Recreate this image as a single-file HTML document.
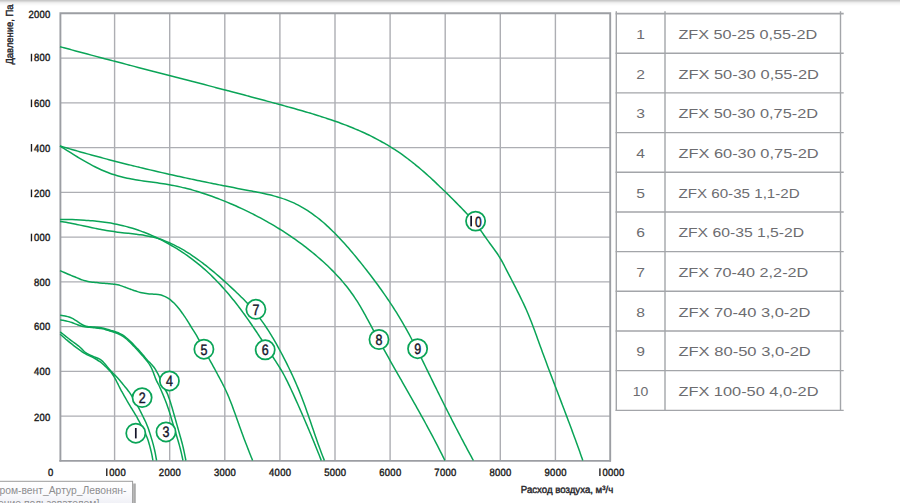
<!DOCTYPE html>
<html><head><meta charset="utf-8"><title>chart</title>
<style>
html,body{margin:0;padding:0;background:#fff;}
body{width:900px;height:503px;overflow:hidden;position:relative;font-family:"Liberation Sans",sans-serif;}
svg{position:absolute;left:0;top:0;}
.tick{font-family:"Liberation Sans",sans-serif;font-weight:normal;font-size:10.5px;fill:#1c1c20;stroke:#1c1c20;stroke-width:0.42px;text-rendering:geometricPrecision;}
.ttl{font-family:"Liberation Sans",sans-serif;font-weight:normal;font-size:10.2px;fill:#26262b;stroke:#26262b;stroke-width:0.42px;text-rendering:geometricPrecision;}
.num{font-family:"Liberation Sans",sans-serif;font-size:15px;fill:#15152a;stroke:#15152a;stroke-width:0.45px;text-rendering:geometricPrecision;}
.leg{font-family:"Liberation Sans",sans-serif;font-size:13.3px;fill:#6c6c70;}
.tip{font-family:"Liberation Sans",sans-serif;font-size:11.1px;fill:#8d8d8f;}
</style></head><body>
<svg width="900" height="503" viewBox="0 0 900 503">
<defs>
<linearGradient id="topg" x1="0" y1="0" x2="0" y2="1">
<stop offset="0" stop-color="#c4c4c4"/><stop offset="0.45" stop-color="#d6d6d6"/><stop offset="0.7" stop-color="#ececec"/><stop offset="1" stop-color="#ffffff"/>
</linearGradient>
<linearGradient id="tipg" x1="0" y1="0" x2="0" y2="1"><stop offset="0" stop-color="#ffffff"/><stop offset="0.35" stop-color="#fbfbfd"/><stop offset="1" stop-color="#e9eaf2"/></linearGradient>
<clipPath id="plotclip"><rect x="59" y="12" width="552" height="449.6"/></clipPath>
</defs>
<rect x="0" y="0" width="900" height="503" fill="#ffffff"/>
<rect x="0" y="0" width="900" height="1" fill="#c9c9c9"/><rect x="0" y="1" width="900" height="1" fill="#d9d9d9"/><rect x="0" y="2" width="900" height="1" fill="#ebebeb"/><rect x="0" y="3" width="900" height="1" fill="#f4f4f4"/><rect x="0" y="4" width="900" height="1" fill="#f9f9f9"/><rect x="0" y="5" width="900" height="1" fill="#fdfdfd"/>

<g stroke="#adaeb3" stroke-width="1.4" fill="none"><line x1="114.60" y1="13.4" x2="114.60" y2="460.9"/><line x1="169.70" y1="13.4" x2="169.70" y2="460.9"/><line x1="224.80" y1="13.4" x2="224.80" y2="460.9"/><line x1="279.90" y1="13.4" x2="279.90" y2="460.9"/><line x1="335.00" y1="13.4" x2="335.00" y2="460.9"/><line x1="390.10" y1="13.4" x2="390.10" y2="460.9"/><line x1="445.20" y1="13.4" x2="445.20" y2="460.9"/><line x1="500.30" y1="13.4" x2="500.30" y2="460.9"/><line x1="555.40" y1="13.4" x2="555.40" y2="460.9"/><line x1="60" y1="416.10" x2="610.3" y2="416.10"/><line x1="60" y1="371.35" x2="610.3" y2="371.35"/><line x1="60" y1="326.60" x2="610.3" y2="326.60"/><line x1="60" y1="281.85" x2="610.3" y2="281.85"/><line x1="60" y1="237.10" x2="610.3" y2="237.10"/><line x1="60" y1="192.35" x2="610.3" y2="192.35"/><line x1="60" y1="147.60" x2="610.3" y2="147.60"/><line x1="60" y1="102.85" x2="610.3" y2="102.85"/><line x1="60" y1="58.10" x2="610.3" y2="58.10"/></g>
<path d="M60.4,461.6 V13.25 H610.2 V461.6" stroke="#9c9ea3" stroke-width="1.9" fill="none" stroke-linejoin="miter"/>
<line x1="59.4" y1="460.9" x2="611" y2="460.9" stroke="#9c9ea3" stroke-width="1.7"/>
<g stroke="#0aa457" stroke-width="1.5" fill="none" stroke-linecap="butt" stroke-linejoin="round" clip-path="url(#plotclip)">
<path d="M60.00,46.70 C60.65,46.87 62.60,47.40 63.91,47.75 C65.21,48.10 66.51,48.46 67.82,48.81 C69.12,49.16 70.42,49.52 71.72,49.87 C73.03,50.22 74.33,50.57 75.63,50.92 C76.93,51.27 78.24,51.62 79.54,51.97 C80.84,52.32 82.14,52.67 83.44,53.02 C84.75,53.37 86.05,53.72 87.35,54.07 C88.65,54.41 89.95,54.76 91.26,55.11 C92.56,55.45 93.86,55.80 95.16,56.14 C96.46,56.49 97.77,56.84 99.07,57.18 C100.37,57.52 101.67,57.87 102.97,58.21 C104.27,58.56 105.58,58.90 106.88,59.24 C108.18,59.59 109.48,59.93 110.78,60.27 C112.08,60.61 113.39,60.95 114.69,61.30 C115.99,61.64 117.29,61.98 118.59,62.32 C119.89,62.66 121.19,63.00 122.49,63.34 C123.80,63.68 125.10,64.02 126.40,64.36 C127.70,64.70 129.00,65.04 130.30,65.38 C131.60,65.72 132.90,66.06 134.21,66.39 C135.51,66.73 136.81,67.07 138.11,67.41 C139.41,67.75 140.71,68.08 142.01,68.42 C143.31,68.76 144.61,69.10 145.92,69.44 C147.22,69.77 148.52,70.11 149.82,70.45 C151.12,70.78 152.42,71.12 153.72,71.46 C155.02,71.80 156.32,72.13 157.62,72.47 C158.92,72.81 160.23,73.14 161.53,73.48 C162.83,73.82 164.13,74.15 165.43,74.49 C166.73,74.83 168.03,75.16 169.33,75.50 C170.63,75.83 171.93,76.17 173.24,76.51 C174.54,76.84 175.84,77.18 177.14,77.52 C178.44,77.85 179.74,78.19 181.04,78.53 C182.34,78.86 183.64,79.20 184.94,79.54 C186.25,79.87 187.55,80.21 188.85,80.55 C190.15,80.88 191.45,81.22 192.75,81.56 C194.05,81.90 195.35,82.23 196.65,82.57 C197.96,82.91 199.26,83.25 200.56,83.58 C201.86,83.92 203.16,84.26 204.46,84.60 C205.76,84.94 207.06,85.28 208.37,85.61 C209.67,85.95 210.97,86.29 212.27,86.63 C213.57,86.97 214.87,87.31 216.17,87.65 C217.48,87.99 218.78,88.33 220.08,88.67 C221.38,89.01 222.68,89.35 223.98,89.69 C225.28,90.03 226.59,90.37 227.89,90.72 C229.19,91.06 230.49,91.40 231.79,91.74 C233.10,92.08 234.40,92.43 235.70,92.77 C237.00,93.11 238.30,93.46 239.61,93.80 C240.91,94.15 242.21,94.49 243.51,94.83 C244.81,95.18 246.12,95.53 247.42,95.87 C248.72,96.22 250.02,96.56 251.33,96.91 C252.63,97.26 253.93,97.60 255.23,97.95 C256.54,98.30 257.84,98.65 259.14,99.00 C260.44,99.35 261.75,99.70 263.05,100.05 C264.35,100.40 265.66,100.75 266.96,101.10 C268.26,101.45 269.56,101.80 270.87,102.15 C272.17,102.51 273.47,102.86 274.78,103.21 C276.08,103.57 277.38,103.92 278.69,104.28 C279.99,104.63 281.30,104.99 282.60,105.34 C283.90,105.70 285.21,106.06 286.51,106.42 C287.81,106.77 289.12,107.13 290.42,107.50 C291.72,107.86 293.02,108.22 294.33,108.59 C295.63,108.95 296.93,109.32 298.23,109.69 C299.53,110.06 300.83,110.43 302.13,110.80 C303.42,111.18 304.72,111.56 306.02,111.94 C307.31,112.32 308.61,112.70 309.90,113.09 C311.20,113.47 312.49,113.86 313.78,114.26 C315.07,114.65 316.36,115.05 317.65,115.45 C318.93,115.85 320.22,116.26 321.50,116.67 C322.79,117.08 324.07,117.49 325.35,117.91 C326.63,118.33 327.90,118.76 329.18,119.19 C330.45,119.61 331.73,120.05 332.99,120.49 C334.26,120.93 335.53,121.37 336.80,121.83 C338.06,122.28 339.32,122.73 340.58,123.20 C341.84,123.66 343.10,124.13 344.35,124.61 C345.60,125.08 346.85,125.57 348.10,126.06 C349.34,126.55 350.59,127.04 351.83,127.55 C353.07,128.05 354.30,128.56 355.53,129.08 C356.77,129.60 357.99,130.13 359.22,130.66 C360.44,131.20 361.66,131.74 362.88,132.29 C364.10,132.84 365.31,133.40 366.52,133.97 C367.72,134.54 368.93,135.11 370.13,135.70 C371.33,136.28 372.52,136.88 373.71,137.48 C374.90,138.09 376.09,138.70 377.27,139.32 C378.45,139.95 379.62,140.58 380.79,141.22 C381.96,141.86 383.13,142.52 384.29,143.18 C385.45,143.84 386.61,144.52 387.76,145.20 C388.90,145.89 390.05,146.58 391.19,147.29 C392.32,148.00 393.46,148.72 394.58,149.45 C395.71,150.17 396.83,150.92 397.95,151.67 C399.06,152.42 400.17,153.19 401.27,153.96 C402.38,154.74 403.47,155.52 404.56,156.32 C405.66,157.12 406.74,157.93 407.82,158.74 C408.90,159.56 409.98,160.39 411.05,161.22 C412.11,162.06 413.18,162.90 414.24,163.75 C415.29,164.61 416.35,165.47 417.39,166.34 C418.44,167.20 419.48,168.08 420.52,168.96 C421.56,169.84 422.59,170.73 423.62,171.63 C424.65,172.52 425.67,173.42 426.69,174.33 C427.70,175.24 428.72,176.15 429.72,177.07 C430.73,177.98 431.74,178.90 432.73,179.83 C433.73,180.75 434.73,181.68 435.72,182.61 C436.71,183.54 437.69,184.48 438.67,185.42 C439.66,186.35 440.63,187.29 441.61,188.24 C442.58,189.18 443.55,190.12 444.51,191.07 C445.48,192.01 446.44,192.95 447.40,193.90 C448.35,194.85 449.31,195.79 450.26,196.74 C451.21,197.68 452.15,198.63 453.09,199.57 C454.04,200.52 454.98,201.46 455.91,202.40 C456.85,203.34 457.78,204.28 458.70,205.22 C459.63,206.16 460.55,207.10 461.47,208.05 C462.39,208.99 463.30,209.94 464.21,210.89 C465.11,211.84 466.01,212.80 466.91,213.76 C467.80,214.73 468.69,215.70 469.57,216.68 C470.45,217.66 471.32,218.65 472.18,219.66 C473.04,220.66 473.90,221.67 474.74,222.70 C475.59,223.73 476.42,224.77 477.25,225.82 C478.07,226.88 478.89,227.95 479.69,229.04 C480.50,230.13 481.29,231.24 482.08,232.36 C482.87,233.48 483.64,234.62 484.43,235.75 C485.21,236.87 485.99,238.01 486.78,239.13 C487.57,240.25 488.38,241.36 489.18,242.46 C489.98,243.56 490.79,244.65 491.59,245.74 C492.40,246.83 493.20,247.92 493.99,249.01 C494.78,250.10 495.56,251.19 496.33,252.29 C497.09,253.39 497.84,254.49 498.56,255.61 C499.28,256.73 499.98,257.86 500.65,259.00 C501.33,260.15 501.97,261.31 502.60,262.47 C503.24,263.64 503.85,264.82 504.47,266.00 C505.08,267.18 505.68,268.37 506.29,269.56 C506.90,270.75 507.51,271.94 508.12,273.13 C508.73,274.32 509.35,275.51 509.97,276.70 C510.58,277.89 511.20,279.08 511.82,280.28 C512.44,281.47 513.06,282.67 513.67,283.86 C514.29,285.06 514.91,286.26 515.52,287.46 C516.13,288.66 516.75,289.86 517.36,291.06 C517.96,292.27 518.57,293.47 519.17,294.68 C519.77,295.89 520.37,297.10 520.96,298.31 C521.55,299.53 522.14,300.74 522.72,301.96 C523.29,303.18 523.87,304.40 524.43,305.62 C525.00,306.85 525.55,308.08 526.10,309.31 C526.65,310.54 527.19,311.77 527.71,313.01 C528.24,314.25 528.76,315.49 529.27,316.74 C529.78,317.98 530.28,319.23 530.77,320.48 C531.27,321.73 531.75,322.98 532.24,324.24 C532.72,325.49 533.19,326.75 533.66,328.01 C534.13,329.27 534.60,330.53 535.06,331.79 C535.52,333.05 535.98,334.32 536.44,335.58 C536.90,336.85 537.35,338.11 537.81,339.38 C538.27,340.64 538.72,341.91 539.18,343.17 C539.63,344.44 540.09,345.70 540.55,346.96 C541.01,348.23 541.47,349.49 541.93,350.76 C542.39,352.02 542.86,353.28 543.32,354.54 C543.79,355.81 544.25,357.07 544.72,358.33 C545.19,359.59 545.66,360.85 546.13,362.11 C546.60,363.37 547.07,364.63 547.54,365.89 C548.02,367.15 548.49,368.41 548.96,369.67 C549.44,370.93 549.91,372.19 550.39,373.45 C550.86,374.71 551.34,375.97 551.82,377.23 C552.30,378.49 552.77,379.75 553.25,381.00 C553.73,382.26 554.21,383.52 554.69,384.78 C555.17,386.04 555.65,387.29 556.13,388.55 C556.61,389.81 557.09,391.07 557.57,392.33 C558.05,393.59 558.53,394.84 559.01,396.10 C559.49,397.36 559.97,398.62 560.45,399.88 C560.93,401.13 561.41,402.39 561.89,403.65 C562.36,404.91 562.84,406.17 563.32,407.43 C563.80,408.69 564.28,409.94 564.76,411.20 C565.23,412.46 565.71,413.72 566.19,414.98 C566.66,416.24 567.14,417.50 567.61,418.76 C568.09,420.02 568.56,421.28 569.04,422.54 C569.51,423.80 569.98,425.06 570.45,426.32 C570.92,427.59 571.39,428.85 571.86,430.11 C572.33,431.37 572.80,432.63 573.26,433.90 C573.73,435.16 574.19,436.42 574.66,437.69 C575.12,438.95 575.58,440.22 576.04,441.48 C576.50,442.75 576.96,444.01 577.41,445.28 C577.87,446.54 578.33,447.81 578.78,449.08 C579.23,450.34 579.68,451.61 580.13,452.88 C580.58,454.15 581.03,455.42 581.47,456.69 C581.92,457.96 582.58,459.86 582.80,460.50"/>
<path d="M60.00,146.00 C60.65,146.19 62.62,146.77 63.92,147.15 C65.23,147.54 66.54,147.92 67.85,148.30 C69.16,148.68 70.46,149.06 71.77,149.44 C73.08,149.81 74.38,150.19 75.69,150.56 C77.00,150.93 78.30,151.30 79.61,151.67 C80.91,152.04 82.22,152.41 83.52,152.77 C84.83,153.14 86.14,153.50 87.44,153.86 C88.75,154.22 90.05,154.58 91.36,154.94 C92.66,155.29 93.97,155.65 95.27,156.00 C96.58,156.36 97.88,156.71 99.18,157.06 C100.49,157.41 101.79,157.76 103.10,158.11 C104.40,158.45 105.71,158.80 107.01,159.14 C108.32,159.48 109.62,159.83 110.93,160.17 C112.23,160.51 113.54,160.84 114.84,161.18 C116.15,161.52 117.45,161.85 118.76,162.19 C120.06,162.52 121.37,162.85 122.67,163.18 C123.98,163.51 125.28,163.84 126.59,164.17 C127.90,164.49 129.20,164.82 130.51,165.14 C131.81,165.46 133.12,165.79 134.43,166.11 C135.73,166.43 137.04,166.75 138.35,167.06 C139.66,167.38 140.96,167.70 142.27,168.01 C143.58,168.33 144.89,168.64 146.20,168.95 C147.50,169.26 148.81,169.57 150.12,169.88 C151.43,170.19 152.74,170.50 154.05,170.80 C155.36,171.11 156.67,171.41 157.98,171.71 C159.30,172.02 160.61,172.32 161.92,172.62 C163.23,172.92 164.54,173.22 165.86,173.51 C167.17,173.81 168.48,174.11 169.80,174.40 C171.11,174.70 172.43,174.99 173.74,175.28 C175.06,175.57 176.37,175.86 177.69,176.15 C179.01,176.44 180.32,176.73 181.64,177.02 C182.96,177.30 184.28,177.59 185.60,177.87 C186.92,178.16 188.24,178.44 189.56,178.72 C190.88,179.00 192.20,179.28 193.52,179.56 C194.84,179.84 196.17,180.12 197.49,180.40 C198.81,180.68 200.14,180.95 201.46,181.23 C202.79,181.50 204.12,181.77 205.44,182.05 C206.77,182.32 208.10,182.59 209.43,182.86 C210.76,183.13 212.09,183.40 213.42,183.67 C214.75,183.94 216.08,184.20 217.41,184.47 C218.74,184.74 220.08,185.00 221.41,185.27 C222.75,185.53 224.08,185.79 225.42,186.05 C226.75,186.32 228.09,186.58 229.43,186.84 C230.77,187.10 232.11,187.36 233.45,187.61 C234.79,187.87 236.13,188.13 237.48,188.39 C238.82,188.64 240.16,188.90 241.51,189.15 C242.85,189.41 244.20,189.66 245.55,189.91 C246.90,190.17 248.25,190.42 249.59,190.67 C250.94,190.93 252.29,191.18 253.64,191.44 C254.99,191.70 256.33,191.96 257.68,192.23 C259.02,192.49 260.36,192.77 261.70,193.05 C263.04,193.33 264.37,193.62 265.70,193.92 C267.03,194.22 268.36,194.52 269.67,194.85 C270.99,195.17 272.31,195.50 273.61,195.85 C274.92,196.19 276.22,196.55 277.51,196.93 C278.80,197.31 280.08,197.70 281.35,198.12 C282.63,198.53 283.89,198.96 285.14,199.41 C286.40,199.86 287.64,200.33 288.87,200.83 C290.10,201.32 291.32,201.84 292.53,202.38 C293.73,202.92 294.93,203.48 296.11,204.06 C297.30,204.65 298.47,205.26 299.63,205.88 C300.79,206.51 301.94,207.16 303.08,207.82 C304.22,208.49 305.35,209.18 306.46,209.88 C307.58,210.59 308.69,211.32 309.79,212.06 C310.89,212.80 311.97,213.56 313.05,214.34 C314.13,215.11 315.20,215.91 316.25,216.72 C317.31,217.53 318.36,218.35 319.40,219.19 C320.44,220.03 321.47,220.89 322.50,221.76 C323.52,222.62 324.53,223.51 325.54,224.40 C326.55,225.30 327.54,226.21 328.54,227.13 C329.53,228.05 330.51,228.98 331.48,229.92 C332.46,230.86 333.42,231.82 334.38,232.78 C335.34,233.74 336.30,234.72 337.24,235.70 C338.19,236.68 339.13,237.67 340.06,238.67 C341.00,239.67 341.92,240.68 342.84,241.69 C343.76,242.70 344.68,243.72 345.59,244.75 C346.50,245.78 347.40,246.81 348.30,247.85 C349.20,248.88 350.09,249.93 350.98,250.97 C351.86,252.02 352.75,253.07 353.63,254.12 C354.50,255.17 355.38,256.23 356.25,257.29 C357.12,258.35 357.98,259.41 358.84,260.47 C359.70,261.53 360.56,262.59 361.42,263.65 C362.27,264.72 363.12,265.78 363.96,266.85 C364.81,267.91 365.65,268.98 366.49,270.05 C367.33,271.12 368.16,272.19 368.99,273.27 C369.81,274.34 370.64,275.41 371.46,276.49 C372.28,277.57 373.09,278.65 373.90,279.73 C374.71,280.81 375.52,281.89 376.32,282.98 C377.12,284.07 377.92,285.15 378.71,286.24 C379.50,287.33 380.29,288.43 381.07,289.52 C381.86,290.62 382.63,291.72 383.41,292.82 C384.18,293.92 384.95,295.02 385.71,296.13 C386.47,297.24 387.23,298.35 387.98,299.46 C388.73,300.57 389.48,301.69 390.22,302.81 C390.96,303.93 391.70,305.05 392.43,306.18 C393.16,307.30 393.89,308.43 394.61,309.56 C395.33,310.70 396.04,311.83 396.75,312.97 C397.46,314.11 398.17,315.26 398.87,316.41 C399.56,317.55 400.26,318.70 400.94,319.86 C401.63,321.02 402.31,322.18 402.99,323.34 C403.66,324.50 404.33,325.67 404.99,326.84 C405.66,328.02 406.31,329.19 406.97,330.37 C407.62,331.55 408.27,332.73 408.91,333.92 C409.55,335.11 410.19,336.30 410.82,337.49 C411.46,338.68 412.09,339.88 412.71,341.08 C413.34,342.28 413.96,343.48 414.58,344.68 C415.20,345.89 415.81,347.09 416.43,348.30 C417.04,349.51 417.65,350.72 418.26,351.93 C418.86,353.14 419.47,354.35 420.07,355.57 C420.67,356.78 421.27,358.00 421.87,359.22 C422.47,360.43 423.07,361.65 423.66,362.87 C424.26,364.09 424.86,365.31 425.45,366.53 C426.05,367.74 426.64,368.96 427.23,370.18 C427.83,371.40 428.42,372.62 429.01,373.84 C429.61,375.06 430.20,376.28 430.80,377.50 C431.39,378.71 431.98,379.93 432.58,381.15 C433.18,382.36 433.77,383.58 434.37,384.80 C434.97,386.01 435.56,387.23 436.16,388.44 C436.76,389.65 437.36,390.87 437.96,392.08 C438.56,393.29 439.16,394.51 439.76,395.72 C440.36,396.93 440.96,398.14 441.57,399.35 C442.17,400.56 442.77,401.77 443.38,402.98 C443.98,404.19 444.59,405.40 445.20,406.61 C445.80,407.81 446.41,409.02 447.02,410.23 C447.63,411.43 448.24,412.64 448.85,413.84 C449.46,415.05 450.07,416.25 450.69,417.46 C451.30,418.66 451.92,419.87 452.53,421.07 C453.15,422.27 453.77,423.47 454.38,424.67 C455.00,425.87 455.62,427.08 456.24,428.28 C456.86,429.47 457.49,430.67 458.11,431.87 C458.74,433.07 459.36,434.27 459.99,435.47 C460.62,436.66 461.24,437.86 461.87,439.05 C462.50,440.25 463.14,441.45 463.77,442.64 C464.40,443.83 465.04,445.03 465.68,446.22 C466.31,447.41 466.95,448.60 467.59,449.80 C468.23,450.99 468.87,452.18 469.52,453.37 C470.16,454.56 470.81,455.75 471.45,456.94 C472.10,458.12 473.08,459.91 473.40,460.50"/>
<path d="M60.00,146.00 C60.57,146.36 62.27,147.42 63.40,148.14 C64.54,148.86 65.68,149.58 66.82,150.30 C67.96,151.02 69.10,151.74 70.25,152.46 C71.40,153.18 72.54,153.90 73.70,154.62 C74.85,155.33 76.01,156.05 77.17,156.75 C78.33,157.46 79.49,158.16 80.66,158.86 C81.83,159.55 83.00,160.24 84.18,160.92 C85.35,161.60 86.53,162.27 87.72,162.93 C88.91,163.59 90.10,164.24 91.29,164.87 C92.49,165.51 93.69,166.13 94.90,166.74 C96.11,167.35 97.32,167.95 98.54,168.52 C99.76,169.10 100.98,169.67 102.21,170.21 C103.44,170.75 104.68,171.28 105.93,171.79 C107.17,172.29 108.42,172.78 109.68,173.24 C110.94,173.71 112.20,174.15 113.48,174.57 C114.75,174.99 116.03,175.38 117.32,175.76 C118.60,176.13 119.90,176.48 121.20,176.81 C122.50,177.14 123.81,177.45 125.12,177.75 C126.43,178.04 127.75,178.32 129.07,178.58 C130.40,178.84 131.72,179.09 133.05,179.33 C134.38,179.56 135.72,179.79 137.06,180.00 C138.39,180.22 139.73,180.42 141.07,180.62 C142.42,180.82 143.76,181.01 145.11,181.20 C146.45,181.39 147.80,181.57 149.14,181.76 C150.49,181.94 151.84,182.12 153.18,182.30 C154.53,182.49 155.88,182.67 157.22,182.86 C158.56,183.05 159.91,183.24 161.25,183.44 C162.59,183.64 163.93,183.84 165.27,184.05 C166.60,184.27 167.93,184.49 169.26,184.72 C170.59,184.96 171.92,185.20 173.24,185.46 C174.56,185.72 175.88,185.99 177.19,186.27 C178.51,186.55 179.82,186.84 181.12,187.14 C182.43,187.44 183.73,187.76 185.03,188.08 C186.33,188.40 187.63,188.74 188.92,189.08 C190.22,189.43 191.51,189.78 192.79,190.15 C194.08,190.51 195.37,190.89 196.65,191.27 C197.93,191.65 199.21,192.05 200.48,192.45 C201.76,192.85 203.03,193.27 204.30,193.69 C205.57,194.11 206.84,194.54 208.10,194.97 C209.37,195.41 210.63,195.86 211.89,196.31 C213.15,196.77 214.41,197.23 215.67,197.70 C216.92,198.17 218.18,198.65 219.43,199.13 C220.68,199.62 221.93,200.11 223.18,200.61 C224.43,201.11 225.67,201.62 226.92,202.13 C228.16,202.65 229.40,203.17 230.65,203.70 C231.89,204.22 233.12,204.76 234.36,205.30 C235.60,205.84 236.83,206.39 238.06,206.95 C239.29,207.50 240.52,208.06 241.75,208.63 C242.97,209.20 244.20,209.78 245.42,210.36 C246.64,210.95 247.86,211.54 249.07,212.13 C250.29,212.73 251.50,213.33 252.71,213.94 C253.92,214.56 255.12,215.17 256.33,215.80 C257.53,216.42 258.73,217.05 259.92,217.69 C261.12,218.33 262.31,218.98 263.50,219.63 C264.69,220.28 265.87,220.94 267.05,221.61 C268.23,222.27 269.41,222.95 270.58,223.63 C271.76,224.31 272.92,224.99 274.09,225.69 C275.25,226.38 276.41,227.08 277.57,227.79 C278.72,228.50 279.88,229.21 281.02,229.93 C282.17,230.65 283.31,231.38 284.45,232.12 C285.58,232.85 286.72,233.59 287.84,234.34 C288.97,235.09 290.09,235.85 291.21,236.61 C292.33,237.37 293.44,238.14 294.54,238.92 C295.65,239.69 296.75,240.48 297.85,241.27 C298.94,242.06 300.03,242.86 301.12,243.66 C302.20,244.46 303.28,245.27 304.35,246.09 C305.42,246.91 306.49,247.74 307.55,248.57 C308.61,249.40 309.66,250.24 310.71,251.08 C311.76,251.93 312.80,252.78 313.84,253.64 C314.87,254.50 315.90,255.36 316.92,256.24 C317.95,257.11 318.96,257.99 319.97,258.88 C320.98,259.76 321.98,260.66 322.97,261.56 C323.97,262.46 324.96,263.36 325.93,264.28 C326.91,265.20 327.89,266.12 328.85,267.05 C329.81,267.98 330.77,268.92 331.71,269.86 C332.66,270.81 333.60,271.76 334.52,272.73 C335.45,273.69 336.37,274.66 337.28,275.64 C338.19,276.62 339.08,277.61 339.97,278.61 C340.86,279.60 341.74,280.61 342.61,281.63 C343.47,282.64 344.33,283.67 345.18,284.70 C346.02,285.74 346.85,286.78 347.68,287.83 C348.50,288.89 349.31,289.95 350.11,291.02 C350.90,292.10 351.69,293.18 352.46,294.28 C353.23,295.37 353.99,296.48 354.74,297.59 C355.49,298.71 356.22,299.83 356.94,300.97 C357.66,302.11 358.37,303.25 359.07,304.40 C359.77,305.56 360.46,306.72 361.15,307.89 C361.83,309.05 362.50,310.23 363.17,311.41 C363.84,312.58 364.50,313.77 365.15,314.96 C365.81,316.15 366.46,317.34 367.10,318.53 C367.75,319.73 368.39,320.92 369.03,322.12 C369.68,323.32 370.32,324.52 370.96,325.72 C371.60,326.92 372.24,328.12 372.88,329.31 C373.52,330.51 374.16,331.71 374.81,332.90 C375.45,334.09 376.10,335.28 376.74,336.47 C377.39,337.66 378.04,338.85 378.69,340.04 C379.34,341.23 379.99,342.41 380.65,343.60 C381.30,344.78 381.96,345.96 382.61,347.14 C383.27,348.32 383.92,349.50 384.58,350.68 C385.24,351.86 385.90,353.04 386.56,354.22 C387.22,355.39 387.88,356.57 388.54,357.74 C389.20,358.92 389.87,360.09 390.53,361.26 C391.19,362.44 391.86,363.61 392.52,364.78 C393.18,365.95 393.85,367.12 394.51,368.29 C395.18,369.46 395.84,370.63 396.51,371.80 C397.18,372.97 397.84,374.14 398.51,375.31 C399.17,376.48 399.84,377.64 400.51,378.81 C401.17,379.98 401.84,381.15 402.50,382.31 C403.17,383.48 403.84,384.65 404.50,385.82 C405.17,386.98 405.83,388.15 406.50,389.32 C407.16,390.49 407.83,391.65 408.49,392.82 C409.16,393.99 409.82,395.16 410.48,396.33 C411.15,397.50 411.81,398.67 412.47,399.84 C413.13,401.00 413.79,402.17 414.45,403.35 C415.11,404.52 415.77,405.69 416.43,406.86 C417.09,408.03 417.74,409.20 418.40,410.38 C419.05,411.55 419.71,412.73 420.36,413.90 C421.02,415.08 421.67,416.25 422.32,417.43 C422.97,418.61 423.62,419.79 424.27,420.97 C424.91,422.15 425.56,423.33 426.20,424.51 C426.85,425.69 427.49,426.88 428.13,428.06 C428.77,429.25 429.41,430.43 430.05,431.62 C430.69,432.81 431.32,434.00 431.95,435.19 C432.59,436.38 433.22,437.57 433.85,438.77 C434.48,439.96 435.10,441.16 435.73,442.36 C436.35,443.56 436.97,444.76 437.59,445.96 C438.21,447.16 438.83,448.37 439.44,449.58 C440.06,450.78 440.67,451.99 441.28,453.20 C441.89,454.42 442.50,455.63 443.10,456.84 C443.70,458.06 444.60,459.89 444.90,460.50"/>
<path d="M60.00,221.40 C60.68,221.51 62.71,221.83 64.06,222.06 C65.41,222.28 66.76,222.52 68.10,222.77 C69.44,223.01 70.78,223.27 72.12,223.53 C73.45,223.79 74.78,224.05 76.12,224.32 C77.45,224.59 78.78,224.87 80.10,225.14 C81.43,225.42 82.76,225.70 84.08,225.98 C85.41,226.26 86.74,226.54 88.06,226.82 C89.39,227.10 90.71,227.38 92.04,227.66 C93.36,227.93 94.69,228.21 96.02,228.48 C97.34,228.74 98.67,229.01 100.00,229.27 C101.34,229.52 102.67,229.78 104.01,230.02 C105.34,230.26 106.68,230.50 108.02,230.72 C109.36,230.95 110.71,231.16 112.06,231.36 C113.41,231.57 114.76,231.76 116.12,231.94 C117.48,232.12 118.84,232.28 120.20,232.44 C121.57,232.61 122.94,232.76 124.30,232.91 C125.67,233.06 127.04,233.21 128.41,233.36 C129.78,233.51 131.15,233.66 132.51,233.82 C133.88,233.98 135.24,234.14 136.60,234.31 C137.96,234.49 139.32,234.66 140.68,234.86 C142.03,235.06 143.38,235.26 144.72,235.49 C146.06,235.72 147.40,235.96 148.73,236.23 C150.06,236.50 151.38,236.79 152.70,237.10 C154.01,237.42 155.32,237.76 156.61,238.13 C157.91,238.50 159.19,238.90 160.47,239.32 C161.74,239.74 163.01,240.20 164.27,240.67 C165.53,241.15 166.77,241.65 168.02,242.17 C169.26,242.69 170.49,243.24 171.71,243.81 C172.93,244.38 174.15,244.97 175.35,245.57 C176.56,246.18 177.75,246.81 178.94,247.46 C180.13,248.11 181.31,248.78 182.49,249.46 C183.66,250.14 184.83,250.84 185.98,251.55 C187.14,252.27 188.29,253.00 189.44,253.74 C190.58,254.48 191.72,255.24 192.84,256.01 C193.97,256.78 195.09,257.56 196.21,258.35 C197.32,259.14 198.43,259.94 199.53,260.75 C200.63,261.56 201.73,262.38 202.82,263.21 C203.90,264.04 204.99,264.87 206.06,265.71 C207.14,266.56 208.21,267.41 209.27,268.26 C210.33,269.12 211.39,269.98 212.44,270.85 C213.50,271.72 214.54,272.60 215.58,273.48 C216.63,274.37 217.66,275.26 218.69,276.15 C219.72,277.04 220.75,277.94 221.77,278.84 C222.79,279.75 223.81,280.66 224.82,281.57 C225.83,282.48 226.84,283.40 227.85,284.31 C228.85,285.23 229.85,286.16 230.84,287.08 C231.84,288.01 232.83,288.94 233.82,289.87 C234.81,290.80 235.79,291.73 236.77,292.67 C237.75,293.60 238.73,294.54 239.70,295.48 C240.67,296.42 241.64,297.36 242.60,298.31 C243.55,299.26 244.50,300.22 245.44,301.19 C246.38,302.16 247.31,303.14 248.22,304.13 C249.14,305.12 250.04,306.12 250.93,307.13 C251.82,308.15 252.70,309.17 253.57,310.21 C254.43,311.24 255.29,312.29 256.13,313.35 C256.97,314.41 257.80,315.47 258.62,316.55 C259.44,317.63 260.25,318.72 261.04,319.82 C261.84,320.92 262.62,322.03 263.40,323.15 C264.17,324.27 264.94,325.40 265.69,326.53 C266.44,327.67 267.19,328.81 267.92,329.96 C268.66,331.10 269.39,332.25 270.10,333.41 C270.82,334.57 271.53,335.73 272.23,336.90 C272.94,338.07 273.63,339.24 274.32,340.42 C275.00,341.59 275.68,342.77 276.35,343.96 C277.02,345.14 277.69,346.33 278.34,347.52 C279.00,348.71 279.65,349.91 280.29,351.10 C280.94,352.30 281.57,353.50 282.21,354.70 C282.84,355.90 283.46,357.11 284.08,358.31 C284.70,359.52 285.32,360.73 285.92,361.93 C286.53,363.14 287.14,364.35 287.73,365.57 C288.33,366.78 288.92,367.99 289.51,369.21 C290.09,370.42 290.67,371.64 291.24,372.86 C291.82,374.09 292.39,375.31 292.95,376.54 C293.51,377.76 294.06,378.99 294.61,380.22 C295.16,381.46 295.70,382.69 296.24,383.93 C296.77,385.17 297.30,386.41 297.82,387.66 C298.34,388.90 298.86,390.15 299.37,391.41 C299.88,392.66 300.38,393.92 300.87,395.18 C301.37,396.44 301.85,397.70 302.34,398.97 C302.82,400.24 303.30,401.51 303.77,402.79 C304.24,404.06 304.71,405.34 305.17,406.62 C305.63,407.90 306.09,409.18 306.55,410.46 C307.00,411.75 307.46,413.03 307.91,414.32 C308.36,415.61 308.80,416.90 309.25,418.19 C309.70,419.47 310.14,420.77 310.58,422.06 C311.03,423.35 311.47,424.64 311.91,425.93 C312.35,427.22 312.79,428.52 313.24,429.81 C313.68,431.10 314.12,432.39 314.57,433.68 C315.01,434.97 315.46,436.26 315.91,437.55 C316.36,438.84 316.81,440.12 317.26,441.41 C317.71,442.69 318.17,443.98 318.63,445.26 C319.09,446.54 319.56,447.82 320.03,449.10 C320.50,450.37 320.97,451.65 321.45,452.92 C321.93,454.19 322.41,455.46 322.91,456.72 C323.40,457.98 324.15,459.87 324.40,460.50"/>
<path d="M60.00,219.40 C60.68,219.41 62.71,219.42 64.06,219.43 C65.42,219.45 66.77,219.47 68.13,219.49 C69.49,219.52 70.85,219.55 72.21,219.59 C73.57,219.63 74.93,219.68 76.29,219.73 C77.65,219.78 79.01,219.84 80.37,219.91 C81.73,219.98 83.09,220.06 84.45,220.15 C85.80,220.23 87.16,220.33 88.52,220.44 C89.88,220.54 91.24,220.66 92.59,220.78 C93.95,220.91 95.30,221.04 96.66,221.19 C98.01,221.34 99.36,221.49 100.71,221.66 C102.06,221.83 103.41,222.01 104.76,222.21 C106.10,222.40 107.44,222.60 108.79,222.82 C110.13,223.04 111.46,223.27 112.80,223.52 C114.13,223.76 115.47,224.02 116.79,224.30 C118.12,224.57 119.45,224.86 120.77,225.16 C122.09,225.47 123.41,225.78 124.72,226.12 C126.04,226.45 127.35,226.80 128.65,227.17 C129.96,227.53 131.26,227.91 132.55,228.31 C133.85,228.70 135.14,229.12 136.43,229.54 C137.71,229.97 139.00,230.41 140.27,230.87 C141.55,231.32 142.82,231.79 144.09,232.28 C145.36,232.76 146.62,233.26 147.88,233.78 C149.13,234.29 150.38,234.82 151.63,235.36 C152.87,235.90 154.11,236.46 155.35,237.03 C156.58,237.59 157.81,238.18 159.03,238.77 C160.26,239.37 161.47,239.98 162.68,240.60 C163.89,241.22 165.10,241.86 166.29,242.50 C167.49,243.15 168.68,243.81 169.86,244.48 C171.05,245.16 172.23,245.84 173.40,246.54 C174.57,247.24 175.73,247.95 176.89,248.67 C178.04,249.39 179.19,250.12 180.34,250.87 C181.48,251.61 182.61,252.37 183.74,253.13 C184.87,253.90 185.99,254.68 187.10,255.47 C188.21,256.26 189.31,257.06 190.41,257.87 C191.51,258.68 192.60,259.50 193.68,260.34 C194.76,261.17 195.83,262.01 196.89,262.86 C197.95,263.72 199.01,264.58 200.06,265.45 C201.10,266.32 202.14,267.21 203.17,268.10 C204.20,268.99 205.22,269.89 206.23,270.80 C207.24,271.71 208.25,272.63 209.24,273.56 C210.23,274.49 211.22,275.43 212.19,276.38 C213.16,277.32 214.13,278.28 215.08,279.24 C216.04,280.20 216.99,281.18 217.92,282.16 C218.86,283.14 219.79,284.12 220.71,285.12 C221.63,286.11 222.54,287.12 223.44,288.13 C224.34,289.14 225.24,290.16 226.12,291.18 C227.01,292.20 227.89,293.23 228.76,294.27 C229.63,295.31 230.49,296.35 231.35,297.40 C232.21,298.45 233.06,299.50 233.90,300.57 C234.75,301.63 235.58,302.69 236.41,303.76 C237.24,304.84 238.07,305.91 238.89,306.99 C239.71,308.08 240.52,309.16 241.33,310.25 C242.14,311.34 242.94,312.44 243.74,313.54 C244.53,314.63 245.33,315.74 246.11,316.84 C246.90,317.95 247.69,319.06 248.47,320.17 C249.25,321.29 250.02,322.40 250.79,323.52 C251.57,324.64 252.33,325.76 253.10,326.89 C253.86,328.01 254.63,329.14 255.38,330.27 C256.14,331.39 256.90,332.52 257.65,333.66 C258.41,334.79 259.16,335.92 259.91,337.06 C260.66,338.19 261.40,339.33 262.15,340.46 C262.90,341.60 263.64,342.74 264.38,343.87 C265.13,345.01 265.87,346.15 266.61,347.29 C267.35,348.43 268.09,349.56 268.83,350.70 C269.57,351.84 270.31,352.98 271.05,354.11 C271.79,355.25 272.53,356.38 273.27,357.52 C274.00,358.65 274.75,359.78 275.48,360.92 C276.22,362.05 276.95,363.19 277.67,364.33 C278.39,365.47 279.11,366.61 279.81,367.76 C280.52,368.91 281.21,370.07 281.88,371.23 C282.56,372.39 283.22,373.57 283.86,374.75 C284.50,375.93 285.13,377.12 285.74,378.31 C286.36,379.51 286.96,380.71 287.55,381.92 C288.15,383.13 288.73,384.34 289.31,385.56 C289.88,386.78 290.45,388.00 291.02,389.23 C291.59,390.45 292.15,391.68 292.71,392.91 C293.27,394.14 293.83,395.37 294.39,396.61 C294.95,397.84 295.50,399.08 296.06,400.32 C296.62,401.55 297.17,402.79 297.72,404.04 C298.27,405.28 298.82,406.52 299.37,407.76 C299.92,409.01 300.47,410.25 301.02,411.50 C301.56,412.75 302.11,414.00 302.65,415.25 C303.19,416.50 303.73,417.75 304.27,419.00 C304.81,420.25 305.35,421.50 305.88,422.76 C306.42,424.01 306.95,425.27 307.48,426.52 C308.01,427.78 308.54,429.03 309.07,430.29 C309.60,431.55 310.12,432.80 310.65,434.06 C311.17,435.32 311.69,436.58 312.21,437.84 C312.73,439.09 313.25,440.35 313.76,441.61 C314.27,442.87 314.79,444.13 315.30,445.39 C315.81,446.65 316.32,447.91 316.82,449.17 C317.33,450.43 317.83,451.69 318.33,452.95 C318.83,454.21 319.33,455.46 319.83,456.72 C320.32,457.98 321.05,459.87 321.30,460.50"/>
<path d="M60.00,270.60 C60.46,270.80 61.83,271.41 62.74,271.82 C63.65,272.23 64.57,272.63 65.48,273.03 C66.40,273.44 67.32,273.84 68.23,274.23 C69.15,274.63 70.07,275.02 71.00,275.40 C71.92,275.78 72.85,276.16 73.78,276.53 C74.70,276.91 75.63,277.27 76.56,277.64 C77.49,278.02 78.42,278.39 79.34,278.77 C80.27,279.14 81.18,279.55 82.12,279.89 C83.05,280.24 83.99,280.57 84.95,280.83 C85.90,281.09 86.89,281.28 87.87,281.46 C88.85,281.63 89.84,281.76 90.83,281.89 C91.82,282.02 92.82,282.14 93.81,282.25 C94.80,282.37 95.80,282.48 96.79,282.59 C97.79,282.70 98.78,282.80 99.77,282.90 C100.77,283.00 101.77,283.10 102.76,283.19 C103.76,283.28 104.75,283.37 105.75,283.45 C106.75,283.54 107.74,283.61 108.74,283.70 C109.74,283.78 110.73,283.85 111.73,283.95 C112.72,284.06 113.72,284.16 114.70,284.30 C115.69,284.45 116.67,284.63 117.65,284.85 C118.62,285.07 119.58,285.34 120.53,285.63 C121.49,285.92 122.43,286.26 123.38,286.59 C124.32,286.92 125.26,287.27 126.20,287.61 C127.13,287.95 128.07,288.30 129.01,288.64 C129.95,288.98 130.89,289.33 131.83,289.66 C132.77,290.00 133.71,290.35 134.66,290.68 C135.60,291.00 136.55,291.33 137.50,291.62 C138.46,291.91 139.42,292.18 140.39,292.42 C141.36,292.66 142.34,292.86 143.32,293.05 C144.30,293.23 145.29,293.38 146.28,293.52 C147.27,293.66 148.26,293.78 149.25,293.88 C150.25,293.98 151.25,294.06 152.24,294.12 C153.24,294.19 154.24,294.22 155.24,294.29 C156.23,294.35 157.24,294.39 158.22,294.52 C159.20,294.65 160.18,294.82 161.13,295.09 C162.08,295.35 163.01,295.72 163.92,296.11 C164.83,296.50 165.73,296.95 166.60,297.43 C167.47,297.91 168.33,298.42 169.15,298.99 C169.97,299.55 170.75,300.17 171.52,300.81 C172.28,301.45 173.02,302.13 173.73,302.82 C174.45,303.51 175.14,304.23 175.82,304.97 C176.49,305.71 177.14,306.47 177.78,307.24 C178.42,308.00 179.04,308.79 179.65,309.58 C180.26,310.37 180.86,311.17 181.45,311.98 C182.05,312.78 182.63,313.59 183.20,314.41 C183.78,315.23 184.34,316.06 184.89,316.89 C185.45,317.72 185.99,318.56 186.53,319.41 C187.06,320.25 187.59,321.10 188.12,321.95 C188.65,322.80 189.17,323.65 189.70,324.50 C190.22,325.35 190.75,326.20 191.28,327.05 C191.81,327.89 192.34,328.74 192.87,329.59 C193.41,330.44 193.94,331.28 194.47,332.13 C195.00,332.98 195.53,333.83 196.05,334.68 C196.56,335.54 197.07,336.40 197.56,337.27 C198.06,338.13 198.54,339.01 199.01,339.89 C199.49,340.77 199.96,341.65 200.43,342.54 C200.90,343.42 201.37,344.30 201.84,345.18 C202.31,346.07 202.78,346.95 203.25,347.84 C203.71,348.72 204.18,349.60 204.65,350.49 C205.12,351.37 205.59,352.25 206.06,353.14 C206.53,354.02 207.00,354.90 207.47,355.78 C207.94,356.66 208.41,357.55 208.89,358.42 C209.37,359.30 209.84,360.18 210.32,361.06 C210.80,361.94 211.28,362.81 211.77,363.69 C212.25,364.57 212.73,365.44 213.22,366.32 C213.70,367.19 214.18,368.07 214.66,368.95 C215.14,369.83 215.61,370.70 216.09,371.58 C216.56,372.46 217.04,373.35 217.51,374.23 C217.98,375.11 218.46,375.99 218.93,376.87 C219.40,377.75 219.87,378.63 220.34,379.52 C220.81,380.40 221.27,381.29 221.73,382.17 C222.19,383.06 222.65,383.95 223.11,384.84 C223.56,385.73 224.00,386.63 224.44,387.53 C224.88,388.43 225.31,389.33 225.74,390.23 C226.16,391.14 226.58,392.05 226.99,392.96 C227.39,393.87 227.79,394.79 228.18,395.71 C228.57,396.63 228.96,397.55 229.33,398.48 C229.71,399.41 230.08,400.34 230.44,401.27 C230.81,402.20 231.17,403.13 231.52,404.07 C231.87,405.00 232.22,405.94 232.57,406.88 C232.92,407.82 233.26,408.76 233.60,409.69 C233.94,410.63 234.28,411.57 234.63,412.51 C234.97,413.45 235.31,414.39 235.65,415.33 C235.99,416.27 236.33,417.22 236.67,418.16 C237.00,419.10 237.34,420.04 237.68,420.98 C238.01,421.92 238.34,422.87 238.68,423.81 C239.01,424.75 239.35,425.69 239.68,426.64 C240.02,427.58 240.35,428.52 240.69,429.46 C241.02,430.40 241.36,431.35 241.70,432.29 C242.05,433.22 242.39,434.16 242.74,435.10 C243.08,436.04 243.44,436.98 243.79,437.91 C244.14,438.85 244.50,439.78 244.86,440.71 C245.21,441.65 245.58,442.58 245.94,443.51 C246.30,444.45 246.66,445.38 247.02,446.31 C247.39,447.24 247.75,448.17 248.12,449.10 C248.48,450.03 248.85,450.97 249.21,451.90 C249.58,452.83 249.95,453.76 250.31,454.68 C250.68,455.61 251.04,456.54 251.40,457.44 C251.75,458.34 252.23,459.56 252.43,460.07 C252.63,460.58 252.57,460.43 252.60,460.50"/>
<path d="M60.20,315.30 C60.69,315.37 62.18,315.58 63.17,315.74 C64.15,315.90 65.14,316.05 66.12,316.27 C67.09,316.48 68.07,316.71 69.01,317.02 C69.96,317.32 70.90,317.67 71.80,318.09 C72.70,318.50 73.57,319.01 74.42,319.53 C75.26,320.05 76.07,320.65 76.89,321.21 C77.71,321.78 78.52,322.38 79.35,322.94 C80.18,323.49 81.01,324.06 81.88,324.53 C82.75,325.00 83.66,325.44 84.59,325.77 C85.52,326.10 86.49,326.33 87.47,326.50 C88.45,326.68 89.45,326.74 90.44,326.83 C91.44,326.92 92.44,326.95 93.44,327.02 C94.43,327.09 95.43,327.15 96.43,327.23 C97.42,327.31 98.42,327.38 99.42,327.50 C100.41,327.61 101.40,327.73 102.38,327.93 C103.35,328.12 104.32,328.38 105.28,328.66 C106.24,328.93 107.18,329.28 108.13,329.58 C109.08,329.88 110.04,330.17 111.00,330.46 C111.95,330.75 112.92,331.02 113.87,331.32 C114.82,331.62 115.77,331.94 116.71,332.28 C117.65,332.62 118.59,332.96 119.50,333.37 C120.41,333.78 121.31,334.22 122.16,334.73 C123.02,335.23 123.83,335.81 124.63,336.41 C125.43,337.00 126.19,337.66 126.95,338.30 C127.71,338.95 128.46,339.62 129.19,340.30 C129.93,340.97 130.66,341.66 131.37,342.36 C132.09,343.05 132.80,343.76 133.49,344.48 C134.19,345.19 134.89,345.91 135.57,346.64 C136.26,347.37 136.94,348.10 137.61,348.84 C138.29,349.58 138.96,350.32 139.63,351.06 C140.29,351.81 140.96,352.56 141.62,353.31 C142.27,354.06 142.93,354.82 143.57,355.58 C144.22,356.35 144.84,357.13 145.49,357.89 C146.13,358.66 146.76,359.44 147.43,360.18 C148.10,360.92 148.80,361.63 149.50,362.34 C150.20,363.05 150.95,363.72 151.63,364.45 C152.31,365.18 152.96,365.93 153.57,366.72 C154.17,367.51 154.72,368.35 155.26,369.19 C155.79,370.03 156.30,370.90 156.79,371.77 C157.28,372.64 157.75,373.52 158.20,374.42 C158.64,375.31 159.06,376.22 159.44,377.14 C159.83,378.06 160.16,379.00 160.49,379.95 C160.83,380.89 161.11,381.85 161.44,382.79 C161.78,383.73 162.07,384.69 162.50,385.58 C162.93,386.46 163.48,387.28 164.02,388.10 C164.56,388.92 165.23,389.66 165.75,390.50 C166.26,391.34 166.70,392.24 167.11,393.15 C167.53,394.05 167.88,394.99 168.23,395.92 C168.59,396.86 168.92,397.80 169.25,398.74 C169.58,399.69 169.90,400.64 170.21,401.59 C170.52,402.54 170.82,403.49 171.11,404.45 C171.40,405.40 171.69,406.36 171.97,407.32 C172.26,408.28 172.53,409.24 172.81,410.20 C173.09,411.16 173.36,412.13 173.64,413.09 C173.91,414.05 174.19,415.01 174.46,415.97 C174.74,416.93 175.01,417.89 175.29,418.86 C175.56,419.82 175.83,420.78 176.10,421.74 C176.37,422.71 176.64,423.67 176.90,424.63 C177.17,425.60 177.44,426.56 177.71,427.52 C177.97,428.49 178.24,429.45 178.51,430.41 C178.78,431.38 179.06,432.34 179.33,433.30 C179.61,434.26 179.89,435.22 180.16,436.18 C180.44,437.14 180.72,438.10 180.99,439.07 C181.26,440.03 181.54,440.99 181.80,441.96 C182.05,442.92 182.31,443.89 182.55,444.86 C182.79,445.83 183.02,446.80 183.24,447.78 C183.47,448.75 183.68,449.73 183.89,450.71 C184.10,451.68 184.30,452.66 184.51,453.64 C184.71,454.62 184.91,455.60 185.10,456.58 C185.30,457.56 185.57,458.87 185.70,459.52 C185.83,460.17 185.87,460.34 185.90,460.50"/>
<path d="M60.20,319.80 C60.69,319.89 62.17,320.15 63.15,320.34 C64.13,320.53 65.12,320.71 66.09,320.93 C67.07,321.15 68.04,321.38 69.00,321.65 C69.96,321.92 70.92,322.21 71.87,322.53 C72.81,322.86 73.74,323.23 74.67,323.60 C75.60,323.96 76.51,324.37 77.45,324.72 C78.38,325.08 79.32,325.43 80.27,325.73 C81.22,326.02 82.19,326.28 83.16,326.49 C84.14,326.70 85.13,326.85 86.12,326.99 C87.10,327.13 88.10,327.22 89.09,327.33 C90.09,327.43 91.09,327.52 92.08,327.61 C93.08,327.70 94.07,327.78 95.07,327.87 C96.07,327.95 97.07,328.02 98.06,328.13 C99.05,328.23 100.05,328.32 101.03,328.49 C102.01,328.66 102.99,328.89 103.95,329.14 C104.91,329.40 105.85,329.74 106.81,330.04 C107.76,330.34 108.71,330.65 109.67,330.94 C110.62,331.23 111.59,331.50 112.54,331.79 C113.50,332.09 114.45,332.40 115.39,332.73 C116.34,333.06 117.28,333.39 118.20,333.77 C119.12,334.16 120.03,334.57 120.90,335.05 C121.77,335.53 122.61,336.08 123.42,336.66 C124.23,337.23 125.00,337.87 125.77,338.51 C126.54,339.15 127.29,339.82 128.03,340.49 C128.77,341.16 129.50,341.84 130.23,342.53 C130.95,343.22 131.66,343.93 132.36,344.64 C133.07,345.35 133.76,346.07 134.45,346.79 C135.14,347.51 135.82,348.25 136.50,348.98 C137.18,349.72 137.85,350.46 138.52,351.20 C139.19,351.94 139.85,352.69 140.52,353.44 C141.18,354.18 141.84,354.93 142.50,355.69 C143.15,356.44 143.81,357.20 144.45,357.96 C145.10,358.73 145.73,359.50 146.36,360.28 C146.98,361.07 147.59,361.85 148.18,362.66 C148.77,363.47 149.35,364.28 149.87,365.13 C150.39,365.98 150.87,366.86 151.31,367.75 C151.75,368.65 152.13,369.57 152.52,370.50 C152.90,371.42 153.24,372.36 153.60,373.29 C153.96,374.23 154.29,375.17 154.65,376.10 C155.00,377.04 155.34,377.98 155.73,378.90 C156.12,379.82 156.53,380.73 156.97,381.63 C157.41,382.52 157.91,383.38 158.37,384.27 C158.82,385.16 159.26,386.06 159.68,386.96 C160.10,387.87 160.50,388.79 160.90,389.70 C161.30,390.62 161.70,391.54 162.09,392.46 C162.47,393.38 162.86,394.31 163.24,395.23 C163.62,396.16 163.99,397.08 164.36,398.01 C164.73,398.94 165.10,399.87 165.46,400.80 C165.82,401.74 166.18,402.67 166.53,403.61 C166.87,404.54 167.22,405.48 167.56,406.43 C167.89,407.37 168.22,408.31 168.54,409.26 C168.86,410.21 169.16,411.16 169.46,412.11 C169.76,413.07 170.05,414.02 170.34,414.98 C170.63,415.94 170.91,416.90 171.19,417.86 C171.47,418.82 171.76,419.78 172.04,420.73 C172.33,421.69 172.62,422.65 172.91,423.61 C173.20,424.56 173.49,425.52 173.78,426.48 C174.07,427.44 174.36,428.39 174.65,429.35 C174.94,430.31 175.23,431.26 175.52,432.22 C175.81,433.18 176.09,434.14 176.38,435.09 C176.67,436.05 176.95,437.01 177.24,437.97 C177.53,438.93 177.81,439.88 178.10,440.84 C178.38,441.80 178.67,442.76 178.95,443.72 C179.22,444.68 179.50,445.64 179.76,446.61 C180.02,447.57 180.27,448.54 180.51,449.51 C180.76,450.48 180.98,451.46 181.21,452.43 C181.44,453.40 181.65,454.39 181.87,455.35 C182.09,456.32 182.32,457.38 182.50,458.24 C182.69,459.09 182.92,460.12 183.00,460.50"/>
<path d="M60.20,331.90 C60.59,332.21 61.77,333.14 62.55,333.76 C63.34,334.38 64.12,335.00 64.90,335.62 C65.69,336.24 66.47,336.86 67.26,337.48 C68.05,338.10 68.83,338.72 69.62,339.33 C70.42,339.94 71.21,340.55 72.01,341.15 C72.81,341.75 73.62,342.34 74.42,342.93 C75.23,343.52 76.05,344.10 76.84,344.70 C77.64,345.30 78.46,345.89 79.22,346.53 C79.99,347.16 80.73,347.84 81.43,348.53 C82.14,349.23 82.76,350.03 83.47,350.72 C84.18,351.41 84.89,352.10 85.69,352.68 C86.49,353.26 87.37,353.74 88.25,354.21 C89.13,354.67 90.05,355.08 90.96,355.49 C91.87,355.90 92.79,356.29 93.71,356.67 C94.64,357.06 95.58,357.40 96.50,357.78 C97.42,358.15 98.38,358.48 99.25,358.94 C100.12,359.41 100.96,359.94 101.73,360.55 C102.50,361.17 103.18,361.91 103.85,362.64 C104.53,363.37 105.16,364.15 105.80,364.92 C106.44,365.69 107.05,366.48 107.68,367.26 C108.31,368.03 108.94,368.81 109.59,369.57 C110.24,370.33 110.90,371.08 111.59,371.81 C112.27,372.54 112.99,373.23 113.70,373.94 C114.40,374.64 115.14,375.32 115.84,376.03 C116.55,376.74 117.25,377.45 117.92,378.19 C118.60,378.93 119.25,379.69 119.89,380.45 C120.53,381.22 121.15,382.00 121.78,382.78 C122.41,383.56 123.03,384.34 123.66,385.12 C124.30,385.89 124.94,386.66 125.57,387.43 C126.20,388.21 126.84,388.98 127.45,389.77 C128.07,390.55 128.67,391.35 129.25,392.16 C129.84,392.98 130.39,393.81 130.94,394.64 C131.49,395.48 132.02,396.33 132.54,397.18 C133.07,398.03 133.58,398.89 134.09,399.75 C134.60,400.61 135.10,401.48 135.60,402.34 C136.10,403.21 136.60,404.08 137.08,404.95 C137.57,405.82 138.05,406.70 138.52,407.58 C138.99,408.47 139.44,409.36 139.89,410.25 C140.34,411.14 140.78,412.04 141.23,412.94 C141.67,413.83 142.12,414.73 142.56,415.62 C143.00,416.52 143.44,417.42 143.88,418.32 C144.31,419.22 144.75,420.12 145.18,421.02 C145.60,421.93 146.02,422.84 146.42,423.75 C146.81,424.67 147.19,425.60 147.55,426.53 C147.91,427.46 148.25,428.40 148.58,429.35 C148.91,430.29 149.22,431.24 149.53,432.19 C149.84,433.14 150.14,434.09 150.44,435.05 C150.74,436.00 151.03,436.96 151.32,437.92 C151.61,438.87 151.90,439.83 152.18,440.79 C152.45,441.75 152.73,442.71 152.99,443.68 C153.26,444.64 153.52,445.61 153.76,446.58 C154.01,447.55 154.25,448.52 154.47,449.49 C154.69,450.47 154.90,451.45 155.10,452.43 C155.30,453.41 155.48,454.40 155.66,455.37 C155.85,456.34 156.04,457.41 156.19,458.26 C156.35,459.12 156.53,460.13 156.60,460.50"/>
<path d="M60.20,334.30 C60.58,334.63 61.72,335.60 62.47,336.26 C63.23,336.91 63.99,337.56 64.75,338.21 C65.51,338.86 66.27,339.51 67.04,340.15 C67.80,340.80 68.57,341.44 69.34,342.07 C70.12,342.71 70.89,343.34 71.67,343.96 C72.46,344.58 73.24,345.20 74.03,345.82 C74.82,346.43 75.62,347.03 76.42,347.63 C77.22,348.23 78.02,348.83 78.83,349.41 C79.64,350.00 80.45,350.59 81.27,351.16 C82.10,351.72 82.92,352.29 83.77,352.82 C84.62,353.34 85.48,353.85 86.36,354.32 C87.24,354.79 88.15,355.21 89.05,355.64 C89.95,356.07 90.87,356.47 91.77,356.90 C92.67,357.33 93.57,357.77 94.45,358.25 C95.33,358.72 96.20,359.22 97.04,359.75 C97.89,360.28 98.73,360.82 99.54,361.41 C100.35,361.99 101.14,362.61 101.91,363.24 C102.67,363.88 103.42,364.55 104.15,365.23 C104.89,365.90 105.61,366.60 106.32,367.30 C107.04,368.00 107.74,368.71 108.44,369.43 C109.13,370.15 109.84,370.85 110.49,371.61 C111.14,372.37 111.76,373.15 112.33,373.96 C112.91,374.77 113.42,375.63 113.93,376.49 C114.44,377.35 114.91,378.24 115.38,379.12 C115.86,380.00 116.31,380.89 116.76,381.78 C117.22,382.67 117.66,383.57 118.11,384.46 C118.56,385.36 119.00,386.25 119.46,387.14 C119.91,388.03 120.38,388.92 120.85,389.80 C121.32,390.68 121.81,391.55 122.30,392.43 C122.78,393.30 123.28,394.17 123.77,395.04 C124.26,395.91 124.76,396.78 125.25,397.65 C125.75,398.51 126.24,399.38 126.74,400.25 C127.24,401.12 127.74,401.98 128.24,402.85 C128.75,403.71 129.26,404.57 129.77,405.43 C130.29,406.29 130.81,407.14 131.34,407.99 C131.86,408.84 132.39,409.69 132.92,410.53 C133.45,411.38 133.99,412.23 134.51,413.08 C135.04,413.93 135.56,414.78 136.06,415.65 C136.56,416.51 137.04,417.39 137.52,418.27 C138.00,419.14 138.46,420.03 138.93,420.91 C139.40,421.80 139.86,422.69 140.32,423.57 C140.78,424.46 141.24,425.35 141.70,426.24 C142.16,427.12 142.62,428.01 143.08,428.90 C143.53,429.79 143.99,430.68 144.43,431.58 C144.86,432.48 145.29,433.38 145.70,434.30 C146.11,435.21 146.49,436.13 146.86,437.06 C147.23,437.99 147.57,438.93 147.90,439.87 C148.23,440.82 148.53,441.77 148.83,442.73 C149.12,443.68 149.40,444.64 149.67,445.61 C149.93,446.57 150.18,447.54 150.43,448.51 C150.67,449.48 150.91,450.45 151.13,451.42 C151.36,452.40 151.59,453.37 151.79,454.35 C151.99,455.32 152.19,456.32 152.36,457.27 C152.53,458.22 152.74,459.52 152.83,460.05 C152.92,460.59 152.89,460.43 152.90,460.50"/>
</g>
<circle cx="135.8" cy="433.2" r="9.6" fill="#fff" stroke="#0aa457" stroke-width="1.75"/>
<rect x="134.95" y="428.00" width="1.7" height="10.4" fill="#15152a"/>
<circle cx="142.1" cy="397.6" r="9.6" fill="#fff" stroke="#0aa457" stroke-width="1.75"/>
<text class="num" transform="translate(142.10,403.05) scale(0.83,1)" text-anchor="middle">2</text>
<circle cx="166.0" cy="431.9" r="9.6" fill="#fff" stroke="#0aa457" stroke-width="1.75"/>
<text class="num" transform="translate(166.00,437.35) scale(0.83,1)" text-anchor="middle">3</text>
<circle cx="169.4" cy="380.9" r="9.6" fill="#fff" stroke="#0aa457" stroke-width="1.75"/>
<text class="num" transform="translate(169.40,386.35) scale(0.83,1)" text-anchor="middle">4</text>
<circle cx="203.9" cy="349.2" r="9.6" fill="#fff" stroke="#0aa457" stroke-width="1.75"/>
<text class="num" transform="translate(203.90,354.65) scale(0.83,1)" text-anchor="middle">5</text>
<circle cx="265.2" cy="349.8" r="9.6" fill="#fff" stroke="#0aa457" stroke-width="1.75"/>
<text class="num" transform="translate(265.20,355.25) scale(0.83,1)" text-anchor="middle">6</text>
<circle cx="255.9" cy="309.3" r="9.6" fill="#fff" stroke="#0aa457" stroke-width="1.75"/>
<text class="num" transform="translate(255.90,314.75) scale(0.83,1)" text-anchor="middle">7</text>
<circle cx="379.0" cy="339.5" r="9.6" fill="#fff" stroke="#0aa457" stroke-width="1.75"/>
<text class="num" transform="translate(379.00,344.95) scale(0.83,1)" text-anchor="middle">8</text>
<circle cx="417.6" cy="348.7" r="9.6" fill="#fff" stroke="#0aa457" stroke-width="1.75"/>
<text class="num" transform="translate(417.60,354.15) scale(0.83,1)" text-anchor="middle">9</text>
<circle cx="475.6" cy="221.1" r="9.6" fill="#fff" stroke="#0aa457" stroke-width="1.75"/>
<rect x="470.30" y="215.85" width="1.7" height="10.5" fill="#15152a"/>
<text class="num" transform="translate(478.40,226.50) scale(0.82,1)" text-anchor="middle" style="font-size:14.6px">0</text>
<text class="tick" transform="translate(47.73,420.80) scale(0.9,1)" text-anchor="middle">0</text><text class="tick" transform="translate(42.18,420.80) scale(0.9,1)" text-anchor="middle">0</text><text class="tick" transform="translate(36.63,420.80) scale(0.9,1)" text-anchor="middle">2</text>
<text class="tick" transform="translate(47.73,375.30) scale(0.9,1)" text-anchor="middle">0</text><text class="tick" transform="translate(42.18,375.30) scale(0.9,1)" text-anchor="middle">0</text><text class="tick" transform="translate(36.63,375.30) scale(0.9,1)" text-anchor="middle">4</text>
<text class="tick" transform="translate(47.73,330.20) scale(0.9,1)" text-anchor="middle">0</text><text class="tick" transform="translate(42.18,330.20) scale(0.9,1)" text-anchor="middle">0</text><text class="tick" transform="translate(36.63,330.20) scale(0.9,1)" text-anchor="middle">6</text>
<text class="tick" transform="translate(47.73,286.00) scale(0.9,1)" text-anchor="middle">0</text><text class="tick" transform="translate(42.18,286.00) scale(0.9,1)" text-anchor="middle">0</text><text class="tick" transform="translate(36.63,286.00) scale(0.9,1)" text-anchor="middle">8</text>
<text class="tick" transform="translate(47.73,241.20) scale(0.9,1)" text-anchor="middle">0</text><text class="tick" transform="translate(42.18,241.20) scale(0.9,1)" text-anchor="middle">0</text><text class="tick" transform="translate(36.63,241.20) scale(0.9,1)" text-anchor="middle">0</text><rect x="30.80" y="233.70" width="1.35" height="7.6" fill="#1c1c20"/>
<text class="tick" transform="translate(47.73,197.00) scale(0.9,1)" text-anchor="middle">0</text><text class="tick" transform="translate(42.18,197.00) scale(0.9,1)" text-anchor="middle">0</text><text class="tick" transform="translate(36.63,197.00) scale(0.9,1)" text-anchor="middle">2</text><rect x="30.80" y="189.50" width="1.35" height="7.6" fill="#1c1c20"/>
<text class="tick" transform="translate(47.73,151.50) scale(0.9,1)" text-anchor="middle">0</text><text class="tick" transform="translate(42.18,151.50) scale(0.9,1)" text-anchor="middle">0</text><text class="tick" transform="translate(36.63,151.50) scale(0.9,1)" text-anchor="middle">4</text><rect x="30.80" y="144.00" width="1.35" height="7.6" fill="#1c1c20"/>
<text class="tick" transform="translate(47.73,107.00) scale(0.9,1)" text-anchor="middle">0</text><text class="tick" transform="translate(42.18,107.00) scale(0.9,1)" text-anchor="middle">0</text><text class="tick" transform="translate(36.63,107.00) scale(0.9,1)" text-anchor="middle">6</text><rect x="30.80" y="99.50" width="1.35" height="7.6" fill="#1c1c20"/>
<text class="tick" transform="translate(47.73,61.30) scale(0.9,1)" text-anchor="middle">0</text><text class="tick" transform="translate(42.18,61.30) scale(0.9,1)" text-anchor="middle">0</text><text class="tick" transform="translate(36.63,61.30) scale(0.9,1)" text-anchor="middle">8</text><rect x="30.80" y="53.80" width="1.35" height="7.6" fill="#1c1c20"/>
<text class="tick" transform="translate(47.73,17.50) scale(0.9,1)" text-anchor="middle">0</text><text class="tick" transform="translate(42.18,17.50) scale(0.9,1)" text-anchor="middle">0</text><text class="tick" transform="translate(36.63,17.50) scale(0.9,1)" text-anchor="middle">0</text><text class="tick" transform="translate(31.08,17.50) scale(0.9,1)" text-anchor="middle">2</text>
<text class="tick" transform="translate(50.68,475.90) scale(0.9,1)" text-anchor="middle">0</text>
<text class="tick" transform="translate(123.02,475.90) scale(0.9,1)" text-anchor="middle">0</text><text class="tick" transform="translate(117.47,475.90) scale(0.9,1)" text-anchor="middle">0</text><text class="tick" transform="translate(111.92,475.90) scale(0.9,1)" text-anchor="middle">0</text><rect x="106.10" y="468.40" width="1.35" height="7.6" fill="#1c1c20"/>
<text class="tick" transform="translate(178.12,475.90) scale(0.9,1)" text-anchor="middle">0</text><text class="tick" transform="translate(172.57,475.90) scale(0.9,1)" text-anchor="middle">0</text><text class="tick" transform="translate(167.02,475.90) scale(0.9,1)" text-anchor="middle">0</text><text class="tick" transform="translate(161.47,475.90) scale(0.9,1)" text-anchor="middle">2</text>
<text class="tick" transform="translate(233.22,475.90) scale(0.9,1)" text-anchor="middle">0</text><text class="tick" transform="translate(227.67,475.90) scale(0.9,1)" text-anchor="middle">0</text><text class="tick" transform="translate(222.12,475.90) scale(0.9,1)" text-anchor="middle">0</text><text class="tick" transform="translate(216.57,475.90) scale(0.9,1)" text-anchor="middle">3</text>
<text class="tick" transform="translate(288.32,475.90) scale(0.9,1)" text-anchor="middle">0</text><text class="tick" transform="translate(282.77,475.90) scale(0.9,1)" text-anchor="middle">0</text><text class="tick" transform="translate(277.22,475.90) scale(0.9,1)" text-anchor="middle">0</text><text class="tick" transform="translate(271.67,475.90) scale(0.9,1)" text-anchor="middle">4</text>
<text class="tick" transform="translate(343.43,475.90) scale(0.9,1)" text-anchor="middle">0</text><text class="tick" transform="translate(337.88,475.90) scale(0.9,1)" text-anchor="middle">0</text><text class="tick" transform="translate(332.32,475.90) scale(0.9,1)" text-anchor="middle">0</text><text class="tick" transform="translate(326.77,475.90) scale(0.9,1)" text-anchor="middle">5</text>
<text class="tick" transform="translate(398.53,475.90) scale(0.9,1)" text-anchor="middle">0</text><text class="tick" transform="translate(392.98,475.90) scale(0.9,1)" text-anchor="middle">0</text><text class="tick" transform="translate(387.43,475.90) scale(0.9,1)" text-anchor="middle">0</text><text class="tick" transform="translate(381.88,475.90) scale(0.9,1)" text-anchor="middle">6</text>
<text class="tick" transform="translate(453.62,475.90) scale(0.9,1)" text-anchor="middle">0</text><text class="tick" transform="translate(448.07,475.90) scale(0.9,1)" text-anchor="middle">0</text><text class="tick" transform="translate(442.52,475.90) scale(0.9,1)" text-anchor="middle">0</text><text class="tick" transform="translate(436.97,475.90) scale(0.9,1)" text-anchor="middle">7</text>
<text class="tick" transform="translate(508.73,475.90) scale(0.9,1)" text-anchor="middle">0</text><text class="tick" transform="translate(503.18,475.90) scale(0.9,1)" text-anchor="middle">0</text><text class="tick" transform="translate(497.62,475.90) scale(0.9,1)" text-anchor="middle">0</text><text class="tick" transform="translate(492.07,475.90) scale(0.9,1)" text-anchor="middle">8</text>
<text class="tick" transform="translate(563.83,475.90) scale(0.9,1)" text-anchor="middle">0</text><text class="tick" transform="translate(558.28,475.90) scale(0.9,1)" text-anchor="middle">0</text><text class="tick" transform="translate(552.73,475.90) scale(0.9,1)" text-anchor="middle">0</text><text class="tick" transform="translate(547.18,475.90) scale(0.9,1)" text-anchor="middle">9</text>
<text class="tick" transform="translate(621.70,475.90) scale(0.9,1)" text-anchor="middle">0</text><text class="tick" transform="translate(616.15,475.90) scale(0.9,1)" text-anchor="middle">0</text><text class="tick" transform="translate(610.60,475.90) scale(0.9,1)" text-anchor="middle">0</text><text class="tick" transform="translate(605.05,475.90) scale(0.9,1)" text-anchor="middle">0</text><rect x="599.23" y="468.40" width="1.35" height="7.6" fill="#1c1c20"/>
<text class="ttl" transform="translate(12.6,64.5) rotate(-90)" textLength="60" lengthAdjust="spacingAndGlyphs">Давление, Па</text>
<text class="ttl" x="520.8" y="493.4" textLength="92.4" lengthAdjust="spacingAndGlyphs">Расход воздуха, м<tspan font-size="6.2px" dy="-3.6">3</tspan><tspan dy="3.6">/ч</tspan></text>
<g stroke="#a3a5a9" fill="none"><line x1="615.60" y1="13.60" x2="843.70" y2="13.60" stroke-width="1.90"/><line x1="615.60" y1="53.27" x2="843.70" y2="53.27" stroke-width="1.35"/><line x1="615.60" y1="92.94" x2="843.70" y2="92.94" stroke-width="1.35"/><line x1="615.60" y1="132.61" x2="843.70" y2="132.61" stroke-width="1.35"/><line x1="615.60" y1="172.28" x2="843.70" y2="172.28" stroke-width="1.35"/><line x1="615.60" y1="211.95" x2="843.70" y2="211.95" stroke-width="1.35"/><line x1="615.60" y1="251.62" x2="843.70" y2="251.62" stroke-width="1.35"/><line x1="615.60" y1="291.29" x2="843.70" y2="291.29" stroke-width="1.35"/><line x1="615.60" y1="330.96" x2="843.70" y2="330.96" stroke-width="1.35"/><line x1="615.60" y1="370.63" x2="843.70" y2="370.63" stroke-width="1.35"/><line x1="615.60" y1="410.30" x2="843.70" y2="410.30" stroke-width="1.35"/><line x1="616.30" y1="11.20" x2="616.30" y2="410.90" stroke-width="1.4"/><line x1="665.00" y1="11.20" x2="665.00" y2="410.90" stroke-width="1.4"/><line x1="840.50" y1="11.20" x2="840.50" y2="410.90" stroke-width="1.4"/></g>
<text class="leg" x="640.6" y="39.20" text-anchor="middle" textLength="8.7" lengthAdjust="spacingAndGlyphs">1</text>
<text class="leg" x="678.4" y="39.20" textLength="138.8" lengthAdjust="spacingAndGlyphs">ZFX 50-25 0,55-2D</text>
<text class="leg" x="640.6" y="78.83" text-anchor="middle" textLength="8.7" lengthAdjust="spacingAndGlyphs">2</text>
<text class="leg" x="678.4" y="78.83" textLength="140.6" lengthAdjust="spacingAndGlyphs">ZFX 50-30 0,55-2D</text>
<text class="leg" x="640.6" y="118.46" text-anchor="middle" textLength="8.7" lengthAdjust="spacingAndGlyphs">3</text>
<text class="leg" x="678.4" y="118.46" textLength="139.6" lengthAdjust="spacingAndGlyphs">ZFX 50-30 0,75-2D</text>
<text class="leg" x="640.6" y="158.09" text-anchor="middle" textLength="8.7" lengthAdjust="spacingAndGlyphs">4</text>
<text class="leg" x="678.4" y="158.09" textLength="140.3" lengthAdjust="spacingAndGlyphs">ZFX 60-30 0,75-2D</text>
<text class="leg" x="640.6" y="197.72" text-anchor="middle" textLength="8.7" lengthAdjust="spacingAndGlyphs">5</text>
<text class="leg" x="678.4" y="197.72" textLength="121.3" lengthAdjust="spacingAndGlyphs">ZFX 60-35 1,1-2D</text>
<text class="leg" x="640.6" y="237.35" text-anchor="middle" textLength="8.7" lengthAdjust="spacingAndGlyphs">6</text>
<text class="leg" x="678.4" y="237.35" textLength="125.8" lengthAdjust="spacingAndGlyphs">ZFX 60-35 1,5-2D</text>
<text class="leg" x="640.6" y="276.98" text-anchor="middle" textLength="8.7" lengthAdjust="spacingAndGlyphs">7</text>
<text class="leg" x="678.4" y="276.98" textLength="129.9" lengthAdjust="spacingAndGlyphs">ZFX 70-40 2,2-2D</text>
<text class="leg" x="640.6" y="316.61" text-anchor="middle" textLength="8.7" lengthAdjust="spacingAndGlyphs">8</text>
<text class="leg" x="678.4" y="316.61" textLength="132.0" lengthAdjust="spacingAndGlyphs">ZFX 70-40 3,0-2D</text>
<text class="leg" x="640.6" y="356.24" text-anchor="middle" textLength="8.7" lengthAdjust="spacingAndGlyphs">9</text>
<text class="leg" x="678.4" y="356.24" textLength="132.4" lengthAdjust="spacingAndGlyphs">ZFX 80-50 3,0-2D</text>
<text class="leg" x="640.6" y="395.87" text-anchor="middle" textLength="15.6" lengthAdjust="spacingAndGlyphs">10</text>
<text class="leg" x="678.4" y="395.87" textLength="140.1" lengthAdjust="spacingAndGlyphs">ZFX 100-50 4,0-2D</text>
<rect x="133.2" y="483.5" width="2.6" height="20" fill="#8f8f8f" opacity="0.75"/>
<rect x="-2" y="481.3" width="134.6" height="30" fill="url(#tipg)" stroke="#9b9b9b" stroke-width="1"/>
<text class="tip" x="-0.5" y="493.8" textLength="127" lengthAdjust="spacingAndGlyphs">ром-вент_Артур_Левонян-</text>
<text class="tip" x="-1.9" y="507.3" textLength="101.2" lengthAdjust="spacingAndGlyphs">ение пользователем]</text>
</svg></body></html>
